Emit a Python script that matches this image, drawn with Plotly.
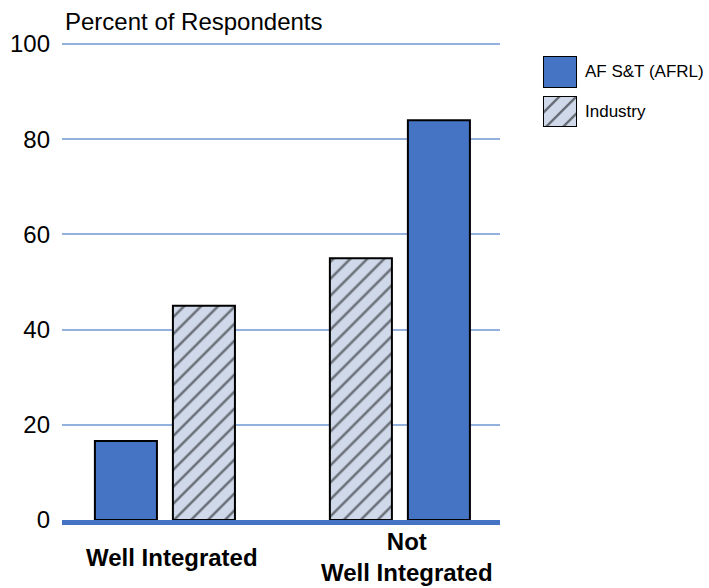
import plotly.graph_objects as go

categories = ["Well Integrated", "Not<br>Well Integrated"]
series_names = ["AF S&T (AFRL)", "Industry"]
af_values = [16.6, 84.0]
industry_values = [45.0, 55.0]
y_ticks = [0, 20, 40, 60, 80, 100]
y_title = "Percent of Respondents"

BLUE = "#4674C4"
HATCH_BG = "#cfd9ea"
GRID = "#94b0dc"
FONT = "Liberation Sans, Arial, sans-serif"

plot_w = 709 - 62
main_frac = 438 / plot_w

af_style = dict(color=BLUE, line=dict(color="black", width=2))
ind_style = dict(color=HATCH_BG, line=dict(color="black", width=2),
                 pattern=dict(shape="/", fgcolor="black", bgcolor=HATCH_BG,
                              size=12, solidity=0.2, fillmode="overlay"))

fig = go.Figure()
fig.add_trace(go.Bar(x=categories, y=af_values, name=series_names[0],
                     width=0.264, offset=[-0.298, 0.034], marker=af_style,
                     showlegend=False))
fig.add_trace(go.Bar(x=categories, y=industry_values, name=series_names[1],
                     width=0.264, offset=[0.034, -0.298], marker=ind_style,
                     showlegend=False))

# legend swatches drawn as bars on small hidden axes
fig.add_trace(go.Bar(x=[0], y=[1], width=1, marker=af_style, xaxis="x2", yaxis="y2",
                     showlegend=False, hoverinfo="skip"))
fig.add_trace(go.Bar(x=[0], y=[1], width=1, marker=ind_style, xaxis="x3", yaxis="y3",
                     showlegend=False, hoverinfo="skip"))

TOP = 38
BOT = 520
H = BOT - TOP

def py(p):
    return (BOT - p) / H

def px(p):
    return (p - 62) / plot_w

# y range extended slightly so the 100 gridline is drawn inside the plot area
y_max = 100 + (44 - TOP) * 100 / 476

hidden = dict(visible=False, fixedrange=True)
fig.update_layout(
    width=709, height=588,
    margin=dict(l=62, r=0, t=TOP, b=588 - BOT),
    paper_bgcolor="white", plot_bgcolor="white",
    barmode="overlay",
    font=dict(family=FONT, color="black"),
    xaxis=dict(domain=[0, main_frac], range=[-0.438, 1.426], type="category",
               showticklabels=False, showgrid=False, showline=True,
               linecolor=BLUE, linewidth=5, ticks=""),
    yaxis=dict(range=[0, y_max], tickvals=y_ticks, showgrid=True, gridcolor=GRID,
               gridwidth=1.5, zeroline=False, showline=False, ticks="",
               tickfont=dict(size=24, family=FONT), ticklabelstandoff=11),
    xaxis2=dict(domain=[px(543), px(577)], range=[-0.5, 0.5], anchor="y2", **hidden),
    yaxis2=dict(domain=[py(88), py(56)], range=[0, 1], anchor="x2", **hidden),
    xaxis3=dict(domain=[px(543), px(577)], range=[-0.5, 0.5], anchor="y3", **hidden),
    yaxis3=dict(domain=[py(127), py(96)], range=[0, 1], anchor="x3", **hidden),
)

annotations = [
    dict(text=y_title, xref="paper", yref="paper", x=px(63), y=py(22),
         xanchor="left", yanchor="middle", showarrow=False,
         font=dict(size=24, family=FONT)),
    dict(text=series_names[0], xref="paper", yref="paper", x=px(583), y=py(72),
         xanchor="left", yanchor="middle", showarrow=False, font=dict(size=17, family=FONT)),
    dict(text=series_names[1], xref="paper", yref="paper", x=px(583), y=py(111),
         xanchor="left", yanchor="middle", showarrow=False, font=dict(size=17, family=FONT)),
]
for c in categories:
    annotations.append(dict(text="<b>" + c + "</b>", xref="x", yref="paper", x=c,
                            y=py(557), xanchor="center", yanchor="middle",
                            xshift=7, showarrow=False, align="center",
                            font=dict(size=24, family=FONT)))
fig.update_layout(annotations=annotations)

fig.write_html("out.html")
